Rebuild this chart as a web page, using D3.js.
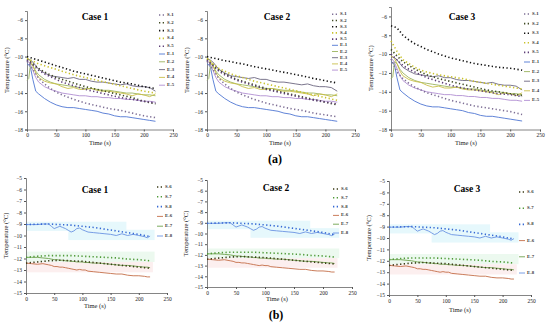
<!DOCTYPE html>
<html><head><meta charset="utf-8">
<script src="https://cdn.jsdelivr.net/npm/d3@7"></script>
<style>body{margin:0;background:#fff}svg{display:block}</style>
</head><body>
<script>
// ---------- DATA ----------
const caseNames = ["Case 1", "Case 2", "Case 3"];
const topSeriesNames = ["S-1","S-2","S-3","S-4","S-5","E-1","E-2","E-3","E-4","E-5"];
const bottomSeriesNames = ["S-6","S-7","S-8","E-6","E-7","E-8"];
const topYTicks = [-18,-16,-14,-12,-10,-8,-6];
const bottomYTicks = [-15,-14,-13,-12,-11,-10,-9,-8,-7,-6,-5];
const xTicks = [0,50,100,150,200,250];

// simulation times (s), top row
const tS = [0,10,20,30,40,50,60,80,100,120,140,160,180,200,220];
// Case 1 simulations
const c1S1 = [-10.5,-11.4,-12.4,-13.0,-13.5,-13.9,-14.2,-14.7,-15.1,-15.4,-15.7,-15.9,-16.2,-16.5,-16.7];
const c1S2 = [-10.3,-10.8,-11.3,-11.7,-12.0,-12.3,-12.5,-12.9,-13.3,-13.6,-13.9,-14.2,-14.5,-14.9,-15.2];
const c1S3 = [-10.0,-10.2,-10.4,-10.6,-10.8,-11.0,-11.2,-11.6,-11.9,-12.2,-12.5,-12.8,-13.0,-13.3,-13.5];
const c1S4 = [-10.2,-10.5,-10.8,-11.0,-11.2,-11.4,-11.6,-12.0,-12.3,-12.6,-12.9,-13.2,-13.5,-13.8,-14.0];
const c1S5 = [-10.4,-10.9,-11.5,-11.9,-12.2,-12.5,-12.8,-13.2,-13.6,-13.9,-14.2,-14.5,-14.7,-14.9,-15.1];
// Case 2 simulations
const c2S1 = [-10.5,-11.4,-12.4,-13.0,-13.5,-13.9,-14.2,-14.7,-15.1,-15.4,-15.7,-15.9,-16.2,-16.4,-16.6];
const c2S2 = [-10.3,-10.9,-11.5,-11.9,-12.2,-12.5,-12.7,-13.1,-13.5,-13.8,-14.1,-14.4,-14.7,-15.0,-15.3];
const c2S3 = [-10.0,-10.15,-10.3,-10.45,-10.55,-10.7,-10.8,-11.1,-11.35,-11.6,-11.85,-12.1,-12.4,-12.65,-12.9];
const c2S4 = [-10.2,-10.8,-11.3,-11.6,-11.9,-12.1,-12.3,-12.7,-13.0,-13.3,-13.6,-13.9,-14.2,-14.5,-14.8];
const c2S5 = [-10.4,-11.0,-11.6,-12.0,-12.3,-12.6,-12.8,-13.2,-13.6,-13.9,-14.2,-14.5,-14.8,-15.0,-15.2];
// Case 3 simulations
const c3S1 = [-10.5,-11.9,-12.6,-13.1,-13.5,-13.8,-14.1,-14.5,-14.9,-15.2,-15.5,-15.7,-15.9,-16.1,-16.4];
const c3S2 = [-9.5,-10.2,-10.8,-11.2,-11.6,-11.9,-12.2,-12.6,-12.9,-13.2,-13.5,-13.8,-14.0,-14.2,-14.4];
const c3S3 = [-7.0,-7.2,-8.0,-8.5,-8.9,-9.2,-9.5,-10.0,-10.4,-10.7,-11.0,-11.2,-11.4,-11.5,-11.7];
const c3S4 = [-8.6,-9.7,-10.6,-11.0,-11.4,-11.7,-11.9,-12.2,-12.4,-12.6,-12.9,-13.1,-13.3,-13.5,-13.7];
const c3S5 = [-10.0,-10.6,-11.2,-11.6,-11.9,-12.2,-12.5,-12.9,-13.3,-13.6,-13.8,-14.0,-14.2,-14.3,-14.5];

// experiment times (s), top row (same measurements in every case)
const tE = [0,3,6,10,15,20,30,40,50,60,70,80,90,100,110,120,130,140,150,160,170,180,190,200,210,220];
const E1 = [-10.8,-10.9,-11.2,-12.5,-13.8,-14.1,-14.6,-15.0,-15.3,-15.5,-15.6,-15.6,-15.7,-15.8,-15.9,-16.0,-16.2,-16.3,-16.5,-16.6,-16.6,-16.7,-16.8,-16.9,-17.0,-17.1];
const E2 = [-12.6,-12.4,-10.8,-11.0,-11.6,-12.0,-12.5,-12.8,-13.0,-13.1,-13.2,-13.3,-13.4,-13.5,-13.5,-13.6,-13.7,-13.7,-13.8,-13.9,-14.0,-14.0,-14.1,-14.2,-14.2,-14.3];
const E3 = [-10.3,-10.3,-10.4,-10.6,-11.0,-11.4,-11.8,-12.1,-12.2,-12.3,-12.4,-12.3,-12.5,-12.5,-12.7,-12.8,-12.8,-12.9,-13.0,-13.1,-13.0,-13.2,-13.3,-13.3,-13.4,-13.8];
const E4 = [-10.2,-10.3,-10.5,-11.0,-11.8,-12.3,-12.7,-12.9,-13.0,-13.3,-13.5,-13.4,-13.6,-13.6,-13.5,-13.7,-13.8,-13.8,-13.9,-14.0,-14.1,-14.3,-14.1,-14.2,-14.4,-14.1];
const E5 = [-10.5,-10.6,-10.9,-11.5,-12.3,-12.8,-13.3,-13.6,-13.8,-14.0,-14.1,-14.2,-14.3,-14.3,-14.4,-14.4,-14.5,-14.5,-14.6,-14.6,-14.7,-14.7,-14.8,-14.9,-14.9,-15.0];

// bottom row simulations (same in the three cases)
const tS2 = [0,20,40,60,80,100,120,140,160,180,200,220];
const S6 = [-12.4,-12.3,-12.2,-12.15,-12.2,-12.25,-12.35,-12.45,-12.55,-12.65,-12.75,-12.85];
const S7 = [-11.9,-11.8,-11.75,-11.75,-11.75,-11.8,-11.85,-11.9,-11.95,-12.05,-12.1,-12.2];
const S8 = [-9.05,-9.02,-9.0,-9.05,-9.1,-9.2,-9.3,-9.45,-9.6,-9.75,-9.9,-10.1];
// bottom row experiments
const tE2 = [0,10,20,30,40,45,50,55,60,65,70,75,80,85,90,95,100,105,110,120,130,140,150,160,170,180,190,200,210,215,220];
const E6 = [-12.4,-12.45,-12.5,-12.45,-12.55,-12.6,-12.7,-12.7,-12.75,-12.75,-12.8,-12.85,-12.9,-12.95,-13.0,-12.95,-13.0,-13.0,-13.1,-13.15,-13.2,-13.25,-13.3,-13.35,-13.35,-13.45,-13.5,-13.5,-13.55,-13.6,-13.6];
const E7 = [-11.9,-11.9,-11.9,-11.95,-12.0,-12.05,-12.1,-12.1,-12.15,-12.15,-12.2,-12.2,-12.25,-12.25,-12.3,-12.3,-12.3,-12.35,-12.35,-12.4,-12.4,-12.45,-12.5,-12.55,-12.6,-12.6,-12.65,-12.7,-12.75,-12.75,-12.8];
const E8 = [-9.05,-9.05,-9.05,-9.0,-9.0,-9.2,-9.4,-9.3,-9.2,-9.3,-9.4,-9.55,-9.7,-9.6,-9.4,-9.35,-9.5,-9.6,-9.7,-9.75,-9.8,-9.85,-9.9,-10.0,-9.85,-10.0,-9.9,-10.0,-10.1,-10.2,-10.05];

// faint highlight bands in the bottom row: time start/end, temperature high/low
const bandT0 = [0, 75, 0, 0];
const bandT1 = [178, 228, 228, 225];
const bandHi = [-8.8, -9.5, -11.4, -12.3];
const bandLo = [-9.6, -10.4, -12.3, -13.2];

// ---------- DRAW ----------
const W = 550, H = 336;
const svg = d3.select("body").append("svg").attr("width", W).attr("height", H)
  .style("font-family", "'Liberation Serif','Times New Roman',serif");

const topColors = ["#7e6f95","#3f4a22","#111111","#c9c22c","#5e3f78","#4f76d2","#9cb45e","#6c6680","#c9c04a","#b18fd2"];
const bottomColors = ["#3a3a16","#4f9a38","#3568d4","#c46e48","#6ea24c","#6b93e2"];
const bandColors = ["#e6f8fc","#e6f8fc","#ecf9ef","#fcefef"];

const topData = [
  [c1S1,c1S2,c1S3,c1S4,c1S5],
  [c2S1,c2S2,c2S3,c2S4,c2S5],
  [c3S1,c3S2,c3S3,c3S4,c3S5]
];
const topE = [E1,E2,E3,E4,E5];

const topGeo = [
  {x0:27,x1:173,y0:11,y1:129.5, title:[95,18], legX:163, legY:15, legDy:7.8, xt:[100,144], yt:8},
  {x0:207,x1:355,y0:11,y1:129.5, title:[277,18], legX:336, legY:14.3, legDy:6.2, xt:[280,144], yt:188},
  {x0:391,x1:540,y0:7,y1:129.5, title:[462,18], legX:528, legY:14, legDy:9.6, xt:[466,144], yt:372}
];
const botGeo = [
  {x0:26,x1:167,y0:178,y1:293, title:[95,191], legX:161, legY:187, legDy:9.8, xt:[95,307], yt:7},
  {x0:207,x1:352,y0:180,y1:287, title:[276,189], legX:337, legY:189, legDy:8.8, xt:[277,300], yt:187},
  {x0:389,x1:531,y0:181,y1:295, title:[467,190], legX:523, legY:192, legDy:16.2, xt:[460,311], yt:370}
];

function drawPanel(g, yDomain, yTicks, sims, simT, exps, expT, names, colors, title, withBands) {
  const x = d3.scaleLinear().domain([0,250]).range([g.x0, g.x1]);
  const y = d3.scaleLinear().domain(yDomain).range([g.y1, g.y0]);
  const p = svg.append("g");

  if (withBands) {
    bandT0.forEach((t0,i) => {
      p.append("rect").attr("x", x(t0)).attr("width", x(bandT1[i]) - x(t0))
        .attr("y", y(bandHi[i])).attr("height", y(bandLo[i]) - y(bandHi[i]))
        .attr("fill", bandColors[i]);
    });
  }

  const xa = p.append("g").attr("transform", `translate(0,${g.y1})`)
    .call(d3.axisBottom(x).tickValues(xTicks).tickSize(2).tickPadding(2));
  const ya = p.append("g").attr("transform", `translate(${g.x0},0)`)
    .call(d3.axisLeft(y).tickValues(yTicks).tickSize(2).tickPadding(2).tickFormat(d3.format("d")));
  [xa, ya].forEach(a => {
    a.selectAll("text").style("font-size", "5.5px").attr("fill", "#222").style("font-family","'Liberation Serif',serif");
    a.selectAll("line").attr("stroke", "#555");
    a.select(".domain").attr("stroke", "#666").attr("stroke-width", 0.8);
  });

  const line = (tArr) => d3.line().x((d,i) => x(tArr[i])).y(d => y(d));
  const nS = sims.length;
  exps.forEach((arr,i) => {
    p.append("path").attr("d", line(expT)(arr)).attr("fill","none")
      .attr("stroke", colors[nS+i]).attr("stroke-width", 0.9);
  });
  sims.forEach((arr,i) => {
    p.append("path").attr("d", line(simT)(arr)).attr("fill","none")
      .attr("stroke", colors[i]).attr("stroke-width", 1.6)
      .attr("stroke-dasharray", "1.3,2.4");
  });

  p.append("text").attr("x", title[0]).attr("y", title[1]).attr("text-anchor","middle")
    .attr("dominant-baseline","middle").style("font-size","9.5px").style("font-weight","bold").text(title[2]);
  p.append("text").attr("x", g.xt[0]).attr("y", g.xt[1]).attr("text-anchor","middle")
    .attr("dominant-baseline","middle").style("font-size","6.5px").attr("fill","#222").text("Time (s)");
  p.append("text").attr("transform", `translate(${g.yt},${(g.y0+g.y1)/2}) rotate(-90)`)
    .attr("text-anchor","middle").attr("dominant-baseline","middle")
    .style("font-size","6.5px").attr("fill","#222").text("Temperature (°C)");

  names.forEach((n,i) => {
    const ly = g.legY + i*g.legDy;
    const isSim = i < nS;
    p.append("line").attr("x1", g.legX-4).attr("x2", g.legX+2).attr("y1", ly).attr("y2", ly)
      .attr("stroke", colors[i]).attr("stroke-width", isSim ? 1.6 : 0.9)
      .attr("stroke-dasharray", isSim ? "1.3,2.4" : null);
    p.append("text").attr("x", g.legX+4).attr("y", ly).attr("dominant-baseline","middle")
      .style("font-size","4.8px").style("font-weight","bold").attr("fill","#333").text(n);
  });
}

topGeo.forEach((g,k) => {
  drawPanel(g, [-18,-5], topYTicks, topData[k], tS, topE, tE, topSeriesNames, topColors,
    [g.title[0], g.title[1], caseNames[k]], false);
});
botGeo.forEach((g,k) => {
  drawPanel(g, [-15,-5], bottomYTicks, [S6,S7,S8], tS2, [E6,E7,E8], tE2, bottomSeriesNames, bottomColors,
    [g.title[0], g.title[1], caseNames[k]], true);
});

svg.append("text").attr("x",275).attr("y",160).attr("text-anchor","middle").attr("dominant-baseline","middle")
  .style("font-size","12px").style("font-weight","bold").text("(a)");
svg.append("text").attr("x",276).attr("y",316).attr("text-anchor","middle").attr("dominant-baseline","middle")
  .style("font-size","12px").style("font-weight","bold").text("(b)");
</script>
</body></html>
